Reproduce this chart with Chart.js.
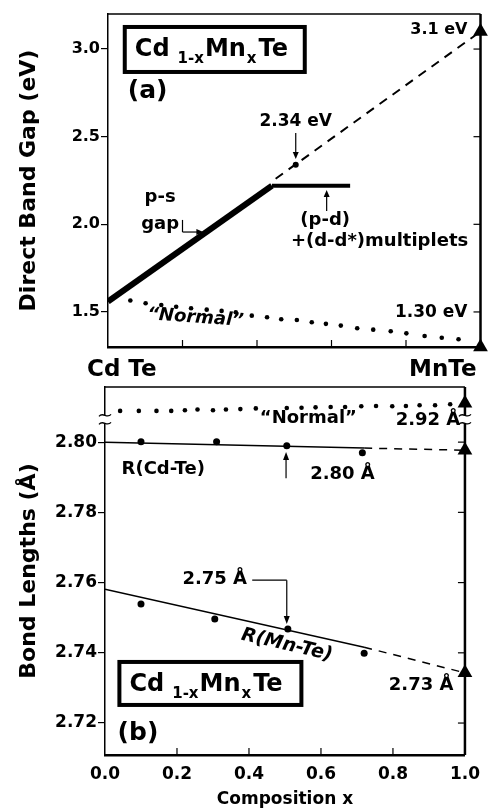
<!DOCTYPE html>
<html>
<head>
<meta charset="utf-8">
<script src="https://cdn.jsdelivr.net/npm/chart.js@4"></script>
<style>
  html, body { margin: 0; padding: 0; background: #fff; }
  #wrap { position: relative; width: 489px; height: 810px; }
  #wrap canvas { position: absolute; left: 0; top: 0; }
</style>
</head>
<body>
<div id="wrap">
  <canvas id="bondChart" width="489" height="810"></canvas>
  <canvas id="gapChart" width="489" height="810"></canvas>
</div>
<script>
// tick labels
const compTicks = [0, 0.2, 0.4, 0.6, 0.8, 1.0];
const gapTicks = [1.5, 2.0, 2.5, 3.0];
const bondTicks = [2.72, 2.74, 2.76, 2.78, 2.80];

// (a) direct band gap, eV
const psGapX = [0, 0.44];
const psGapY = [1.56, 2.22];
const multipletX = [0.44, 0.65];
const multipletY = [2.22, 2.22];
const gapExtrapX = [0.45, 1.0];
const gapExtrapY = [2.26, 3.1];
const gapMarkX = [0.504];
const gapMarkY = [2.34];
const mnTeGaps = [3.1, 1.30];
const normalGapX = [0.060, 0.101, 0.143, 0.183, 0.223, 0.265, 0.305, 0.343, 0.386, 0.427, 0.465,
                    0.507, 0.547, 0.585, 0.625, 0.669, 0.712, 0.759, 0.801, 0.850, 0.896, 0.941];
const normalGapY = [1.565, 1.550, 1.540, 1.530, 1.521, 1.513, 1.506, 1.498, 1.479, 1.470, 1.458,
                    1.454, 1.441, 1.432, 1.422, 1.407, 1.399, 1.390, 1.378, 1.363, 1.353, 1.344];

// (b) bond lengths, angstrom
const normalBondX = [0.042, 0.094, 0.143, 0.184, 0.222, 0.257, 0.300, 0.336, 0.376, 0.419, 0.505,
                     0.546, 0.585, 0.627, 0.667, 0.712, 0.753, 0.798, 0.836, 0.874, 0.917, 0.959];
const normalBondY = [2.9178, 2.9178, 2.9178, 2.9178, 2.9180, 2.9182, 2.9180, 2.9182, 2.9183, 2.9185, 2.9186,
                     2.9187, 2.9188, 2.9189, 2.9189, 2.9191, 2.9192, 2.9191, 2.9192, 2.9194, 2.9194, 2.9197];
const cdTeX = [0.10, 0.31, 0.505, 0.715];
const cdTeY = [2.8001, 2.8001, 2.7990, 2.7970];
const cdTeFitX = [0, 0.72];
const cdTeFitY = [2.8000, 2.7983];
const cdTeExtrapX = [0.72, 1.0];
const cdTeExtrapY = [2.7983, 2.7977];
const mnTeX = [0.10, 0.305, 0.508, 0.72];
const mnTeY = [2.7539, 2.7496, 2.7468, 2.7399];
const mnTeFitX = [0, 0.72];
const mnTeFitY = [2.7581, 2.7416];
const mnTeExtrapX = [0.72, 1.0];
const mnTeExtrapY = [2.7416, 2.7343];
const mnTeBonds = [2.92, 2.7977, 2.7343];

// lower axis range; the "Normal" row sits on a shifted copy of it (axis break)
const bondMin = 2.7109, bondMax = 2.8157, breakShift = 0.1089;

const pts = (xs, ys) => xs.map((x, i) => ({ x, y: ys[i] }));
const FONT = '"DejaVu Sans", sans-serif';

Chart.defaults.font.family = FONT;
Chart.defaults.font.weight = 'bold';
Chart.defaults.color = '#000';
Chart.defaults.animation = false;
Chart.defaults.plugins.legend.display = false;
Chart.defaults.plugins.tooltip.enabled = false;

function write(ctx, str, x, y, size, align = 'left', style = '', rot = 0) {
  ctx.save();
  ctx.translate(x, y);
  ctx.rotate(rot * Math.PI / 180);
  ctx.font = `${style} bold ${size}px ${FONT}`;
  ctx.textAlign = align;
  ctx.textBaseline = 'middle';
  ctx.fillStyle = '#000';
  ctx.fillText(str, 0, 0);
  ctx.restore();
}

function arrow(ctx, x1, y1, x2, y2, head = 8) {
  const a = Math.atan2(y2 - y1, x2 - x1), c = Math.cos(a), s = Math.sin(a);
  ctx.beginPath();
  ctx.moveTo(x1, y1);
  ctx.lineTo(x2 - c * head * 0.7, y2 - s * head * 0.7);
  ctx.stroke();
  ctx.beginPath();
  ctx.moveTo(x2, y2);
  ctx.lineTo(x2 - head * c + 3 * s, y2 - head * s - 3 * c);
  ctx.lineTo(x2 - head * c - 3 * s, y2 - head * s + 3 * c);
  ctx.closePath();
  ctx.fill();
}

// Cd(1-x)Mn(x)Te in a heavy box; x, y = top-left corner of the box
function formulaBox(ctx, x, y, w, h) {
  ctx.save();
  ctx.lineWidth = 4;
  ctx.strokeRect(x, y, w, h);
  const parts = [['Cd', 0, 8], ['1-x', 1, 1], ['Mn', 0, 1], ['x', 1, 2], ['Te', 0, 0]];
  let cx = x + 10;
  const base = y + 29;
  ctx.textBaseline = 'alphabetic';
  parts.forEach(([s, sub, gap]) => {
    ctx.font = `bold ${sub ? 15 : 24}px ${FONT}`;
    ctx.fillText(s, cx, sub ? base + 7 : base);
    cx += ctx.measureText(s).width + gap;
  });
  ctx.restore();
}

function breakMark(ctx, x, y) {
  ctx.save();
  ctx.fillStyle = '#fff';
  ctx.fillRect(x - 3, y - 4, 6, 8);
  ctx.lineWidth = 1.3;
  [-4, 4].forEach(d => {
    ctx.beginPath();
    ctx.moveTo(x - 6, y + d + 1);
    ctx.bezierCurveTo(x - 2, y + d - 4, x + 2, y + d + 4, x + 6, y + d - 1);
    ctx.stroke();
  });
  ctx.restore();
}

// top and right edges of the box plus the inward ticks
const frame = {
  id: 'frame',
  beforeDatasetsDraw(chart, args, opts) {
    const { ctx, chartArea: a, scales } = chart;
    ctx.save();
    ctx.strokeStyle = '#000';
    ctx.lineWidth = 1.5;
    ctx.beginPath();
    ctx.moveTo(a.left, a.top);
    ctx.lineTo(a.right, a.top);
    ctx.stroke();
    ctx.lineWidth = 2.5;
    ctx.beginPath();
    ctx.moveTo(a.right, a.top);
    ctx.lineTo(a.right, a.bottom);
    ctx.stroke();
    ctx.lineWidth = 1.2;
    compTicks.slice(1, -1).forEach(v => {
      const x = scales.x.getPixelForValue(v);
      ctx.beginPath(); ctx.moveTo(x, a.bottom); ctx.lineTo(x, a.bottom - 7); ctx.stroke();
    });
    opts.yTicks.forEach(v => {
      const y = scales.y.getPixelForValue(v);
      ctx.beginPath(); ctx.moveTo(a.right, y); ctx.lineTo(a.right - 7, y); ctx.stroke();
    });
    ctx.restore();
  }
};

const gapNotes = {
  id: 'gapNotes',
  afterDraw(chart) {
    const { ctx, chartArea: a } = chart;
    const X = v => chart.scales.x.getPixelForValue(v);
    const Y = v => chart.scales.y.getPixelForValue(v);
    ctx.save();
    ctx.fillStyle = '#000';
    ctx.strokeStyle = '#000';
    ctx.lineWidth = 1.2;
    formulaBox(ctx, X(0.045), Y(3.126), 180, 45);
    write(ctx, '(a)', X(0.053), Y(2.755), 25);
    write(ctx, mnTeGaps[0].toFixed(1) + ' eV', X(0.965), Y(3.109), 16, 'right');
    write(ctx, gapMarkY[0].toFixed(2) + ' eV', X(0.504), Y(2.584), 17, 'center');
    arrow(ctx, X(0.504), Y(2.521), X(0.504), Y(2.373), 7);
    write(ctx, 'p-s', X(0.14), Y(2.156), 18, 'center');
    write(ctx, 'gap', X(0.14), Y(2.002), 18, 'center');
    ctx.beginPath();
    ctx.moveTo(X(0.2), Y(2.025));
    ctx.lineTo(X(0.2), Y(1.956));
    ctx.stroke();
    arrow(ctx, X(0.2), Y(1.956), X(0.256), Y(1.956), 7);
    write(ctx, '(p-d)', X(0.583), Y(2.025), 18, 'center');
    write(ctx, '+(d-d*)multiplets', X(0.729), Y(1.905), 18, 'center');
    arrow(ctx, X(0.587), Y(2.076), X(0.587), Y(2.196), 7);
    write(ctx, mnTeGaps[1].toFixed(2) + ' eV', X(0.965), Y(1.494), 17, 'right');
    write(ctx, '\u201CNormal\u201D', X(0.235), Y(1.466), 18, 'center', 'italic', 4);
    write(ctx, 'Cd Te', a.left - 21, a.bottom + 23, 23);
    write(ctx, 'MnTe', a.right - 4, a.bottom + 23, 23, 'right');
    ctx.restore();
  }
};

const bondNotes = {
  id: 'bondNotes',
  afterDraw(chart) {
    const { ctx, chartArea: a } = chart;
    const X = v => chart.scales.x.getPixelForValue(v);
    const Y = v => chart.scales.y.getPixelForValue(v);
    ctx.save();
    ctx.fillStyle = '#000';
    ctx.strokeStyle = '#000';
    ctx.lineWidth = 1.2;
    breakMark(ctx, a.left, Y(2.8065));
    breakMark(ctx, a.right, Y(2.8065));
    write(ctx, '\u201CNormal\u201D', X(0.565), Y(2.8068), 18, 'center');
    write(ctx, mnTeBonds[0].toFixed(2) + ' \u00C5', X(0.987), Y(2.8063), 18, 'right');
    write(ctx, 'R(Cd-Te)', X(0.046), Y(2.7923), 18);
    write(ctx, cdTeY[2].toFixed(2) + ' \u00C5', X(0.57), Y(2.7909), 18);
    arrow(ctx, X(0.503), Y(2.7897), X(0.503), Y(2.7972), 8);
    write(ctx, mnTeY[2].toFixed(2) + ' \u00C5', X(0.215), Y(2.761), 18);
    ctx.beginPath();
    ctx.moveTo(X(0.409), Y(2.7607));
    ctx.lineTo(X(0.505), Y(2.7607));
    ctx.stroke();
    arrow(ctx, X(0.505), Y(2.7607), X(0.505), Y(2.7482), 8);
    write(ctx, 'R(Mn-Te)', X(0.505), Y(2.7422), 19, 'center', 'italic', 13);
    write(ctx, mnTeBonds[2].toFixed(2) + ' \u00C5', X(0.968), Y(2.7308), 18, 'right');
    formulaBox(ctx, X(0.040), Y(2.7374), 182, 43);
    write(ctx, '(b)', X(0.035), Y(2.7169), 25);
    ctx.restore();
  }
};

const dark = { borderColor: '#000', backgroundColor: '#000' };

new Chart(document.getElementById('gapChart'), {
  type: 'scatter',
  data: {
    datasets: [
      { ...dark, label: 'p-s gap', data: pts(psGapX, psGapY), showLine: true, borderWidth: 6, pointRadius: 0 },
      { ...dark, label: '(p-d)+(d-d*) multiplets', data: pts(multipletX, multipletY), showLine: true, borderWidth: 4, pointRadius: 0 },
      { ...dark, label: 'p-s gap (extrapolated)', data: pts(gapExtrapX, gapExtrapY), showLine: true, borderWidth: 2, borderDash: [9, 7], pointRadius: 0 },
      { ...dark, label: 'Normal', data: pts(normalGapX, normalGapY), pointRadius: 2.3, borderWidth: 0 },
      { ...dark, label: 'x = 0.5', data: pts(gapMarkX, gapMarkY), pointRadius: 3, borderWidth: 0 },
      { ...dark, label: 'MnTe', data: mnTeGaps.map(y => ({ x: 1, y })), pointStyle: 'triangle', pointRadius: 8.5, borderWidth: 0, clip: false }
    ]
  },
  options: {
    responsive: false,
    layout: { padding: { left: 0, top: 14, right: 6, bottom: 463 } },
    scales: {
      x: {
        type: 'linear', min: 0, max: 1,
        ticks: { display: false },
        grid: { display: false },
        border: { color: '#000', width: 2.5 },
        afterFit: s => { s.height = 0; }
      },
      y: {
        min: 1.3, max: 3.2,
        afterBuildTicks: s => { s.ticks = gapTicks.map(value => ({ value })); },
        ticks: { font: { size: 16 }, padding: 1, callback: v => v.toFixed(1) },
        grid: { drawOnChartArea: false, tickLength: 7, color: '#000', lineWidth: 1.2 },
        border: { color: '#000', width: 1.5 },
        title: { display: true, text: 'Direct Band Gap (eV)', font: { size: 22 }, padding: { top: 16, bottom: 0 } },
        afterFit: s => { s.width = 108; }
      }
    },
    plugins: { frame: { yTicks: gapTicks } }
  },
  plugins: [frame, gapNotes]
});

new Chart(document.getElementById('bondChart'), {
  type: 'scatter',
  data: {
    datasets: [
      { ...dark, label: 'Normal', yAxisID: 'y2', data: pts(normalBondX, normalBondY), pointRadius: 2.3, borderWidth: 0 },
      { ...dark, label: 'R(Cd-Te) fit', data: pts(cdTeFitX, cdTeFitY), showLine: true, borderWidth: 1.5, pointRadius: 0 },
      { ...dark, label: 'R(Cd-Te) extrapolated', data: pts(cdTeExtrapX, cdTeExtrapY), showLine: true, borderWidth: 1.5, borderDash: [8, 7], pointRadius: 0 },
      { ...dark, label: 'R(Cd-Te)', data: pts(cdTeX, cdTeY), pointRadius: 3.5, borderWidth: 0 },
      { ...dark, label: 'R(Mn-Te) fit', data: pts(mnTeFitX, mnTeFitY), showLine: true, borderWidth: 1.5, pointRadius: 0 },
      { ...dark, label: 'R(Mn-Te) extrapolated', data: pts(mnTeExtrapX, mnTeExtrapY), showLine: true, borderWidth: 1.5, borderDash: [8, 7], pointRadius: 0 },
      { ...dark, label: 'R(Mn-Te)', data: pts(mnTeX, mnTeY), pointRadius: 3.5, borderWidth: 0 },
      { ...dark, label: 'MnTe normal', yAxisID: 'y2', data: [{ x: 1, y: mnTeBonds[0] }], pointStyle: 'triangle', pointRadius: 8.5, borderWidth: 0, clip: false },
      { ...dark, label: 'MnTe', data: mnTeBonds.slice(1).map(y => ({ x: 1, y })), pointStyle: 'triangle', pointRadius: 8.5, borderWidth: 0, clip: false }
    ]
  },
  options: {
    responsive: false,
    layout: { padding: { left: 0, top: 387, right: 12, bottom: 0 } },
    scales: {
      x: {
        type: 'linear', min: 0, max: 1,
        afterBuildTicks: s => { s.ticks = compTicks.map(value => ({ value })); },
        ticks: { font: { size: 17 }, padding: 9, callback: v => v.toFixed(1) },
        grid: { display: false, drawTicks: false },
        border: { color: '#000', width: 2.5 },
        title: { display: true, text: 'Composition x', font: { size: 17 }, padding: { top: 0, bottom: 0 } },
        afterFit: s => { s.height = 55; }
      },
      y: {
        min: bondMin, max: bondMax,
        afterBuildTicks: s => { s.ticks = bondTicks.map(value => ({ value })); },
        ticks: { font: { size: 17 }, padding: 1, callback: v => v.toFixed(2) },
        grid: { drawOnChartArea: false, tickLength: 7, color: '#000', lineWidth: 1.2 },
        border: { color: '#000', width: 1.5 },
        title: { display: true, text: 'Bond Lengths (\u00C5)', font: { size: 22 }, padding: { top: 16, bottom: 0 } },
        afterFit: s => { s.width = 105; }
      },
      y2: { display: false, min: bondMin + breakShift, max: bondMax + breakShift }
    },
    plugins: { frame: { yTicks: bondTicks } }
  },
  plugins: [frame, bondNotes]
});
</script>
</body>
</html>
